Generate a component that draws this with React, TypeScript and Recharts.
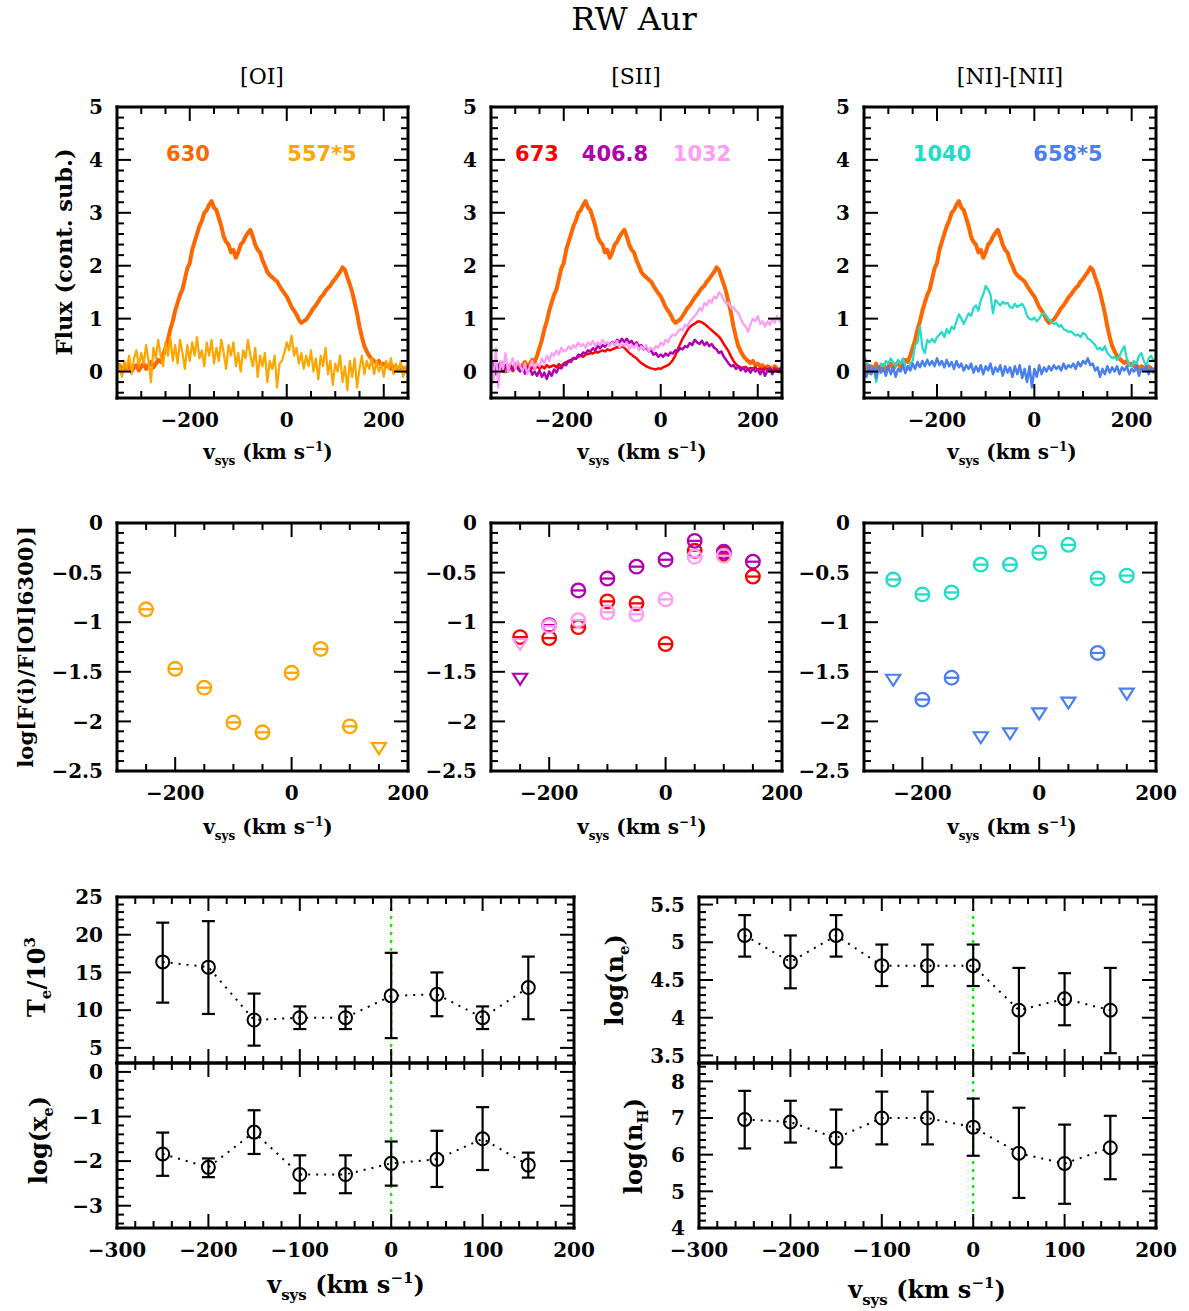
import React from 'react';
import { ComposedChart, Line, Scatter, XAxis, YAxis, ErrorBar, ReferenceLine } from 'recharts';

// ---------- spectra (velocity grid, km/s) ----------
const specVel = Array.from({ length: 121 }, (_, i) => -350 + 5 * i);

const flux630 = [
  0.05, 0.12, -0.02, 0.1, 0.05, 0.15, 0.0, 0.08, 0.12, 0.02, 0.1, 0.15, 0.05, 0.12, 0.18, 0.08, 0.15, 0.22, 0.18, 0.3,
  0.45, 0.6, 0.8, 0.95, 1.15, 1.3, 1.45, 1.55, 1.75, 1.95, 2.05, 2.3, 2.45, 2.6, 2.75, 2.85, 3.0, 3.05, 3.15, 3.22,
  3.1, 3.05, 2.9, 2.75, 2.55, 2.45, 2.4, 2.25, 2.3, 2.15, 2.25, 2.4, 2.45, 2.55, 2.62, 2.68, 2.55, 2.4, 2.3, 2.25,
  2.1, 2.0, 1.88, 1.82, 1.78, 1.74, 1.7, 1.62, 1.55, 1.48, 1.42, 1.32, 1.22, 1.15, 1.08, 0.98, 0.92, 0.95, 0.98, 1.05,
  1.12, 1.2, 1.25, 1.32, 1.4, 1.45, 1.52, 1.58, 1.62, 1.7, 1.75, 1.82, 1.88, 1.97, 1.92, 1.78, 1.65, 1.5, 1.3, 1.1,
  0.85, 0.65, 0.48, 0.38, 0.3, 0.24, 0.2, 0.16, 0.2, 0.12, 0.15, 0.1, 0.12, 0.05, 0.1, 0.08, 0.02, 0.1, 0.05, 0.0,
  0.08,
];
const flux557x5 = [
  0.0, 0.12, -0.1, 0.2, 0.05, 0.3, -0.05, 0.25, 0.4, 0.1, 0.35, 0.15, 0.5, 0.2, -0.2, 0.45, 0.25, 0.6, 0.3, 0.1,
  0.55, 0.3, 0.65, 0.2, 0.5, 0.15, 0.6, 0.35, 0.05, 0.5, 0.2, 0.55, 0.3, 0.65, 0.25, 0.4, 0.1, 0.55, 0.3, 0.6,
  0.15, 0.45, 0.2, 0.6, 0.35, 0.05, 0.5, 0.3, 0.55, 0.1, 0.35, 0.0, 0.4, 0.25, 0.6, 0.3, 0.1, 0.45, -0.1, 0.3,
  0.1, 0.35, -0.2, 0.2, 0.05, 0.3, -0.3, 0.15, 0.2, 0.35, 0.55, 0.4, 0.68, 0.3, 0.45, 0.15, 0.35, 0.05, 0.3, 0.1,
  0.4, 0.0, 0.25, -0.15, 0.3, 0.1, 0.45, -0.05, 0.2, -0.25, 0.15, 0.0, 0.3, -0.2, 0.1, -0.35, 0.2, -0.1, 0.25, -0.3,
  0.05, 0.3, -0.05, 0.2, 0.05, 0.25, -0.05, 0.2, 0.0, 0.15, -0.1, 0.2, 0.05, 0.25, -0.05, 0.15, 0.0, 0.2, -0.1, 0.1,
  0.05,
];
const flux673 = [
  0.12, 0.02, 0.15, 0.05, 0.12, 0.0, 0.1, 0.05, 0.12, 0.02, 0.08, 0.1, 0.02, 0.08, 0.05, 0.1, 0.02, 0.08, 0.05, 0.1,
  0.05, 0.1, 0.06, 0.12, 0.08, 0.1, 0.12, 0.08, 0.14, 0.1, 0.15, 0.18, 0.2, 0.22, 0.25, 0.24, 0.28, 0.3, 0.28, 0.32,
  0.33, 0.35, 0.34, 0.37, 0.36, 0.38, 0.4, 0.38, 0.42, 0.4, 0.42, 0.44, 0.46, 0.45, 0.48, 0.45, 0.4, 0.35, 0.32, 0.28,
  0.25, 0.2, 0.16, 0.13, 0.1, 0.08, 0.06, 0.05, 0.04, 0.06, 0.05, 0.08, 0.1, 0.12, 0.16, 0.22, 0.3, 0.42, 0.52, 0.62,
  0.7, 0.78, 0.84, 0.88, 0.9, 0.94, 0.95, 0.93, 0.9, 0.86, 0.82, 0.78, 0.74, 0.7, 0.66, 0.6, 0.52, 0.45, 0.38, 0.28,
  0.2, 0.14, 0.1, 0.08, 0.06, 0.09, 0.04, 0.07, 0.05, 0.08, 0.03, 0.06, 0.02, 0.07, 0.04, 0.05, 0.01, 0.06, 0.03, 0.05,
  0.04,
];
const flux4068 = [
  -0.12, 0.15, -0.05, 0.1, 0.18, 0.02, 0.12, 0.0, 0.1, 0.04, 0.14, 0.06, 0.0, 0.08, -0.04, 0.03, 0.08, -0.06, 0.0, -0.08,
  0.02, -0.1, -0.02, -0.14, 0.0, -0.08, 0.04, -0.02, 0.08, 0.06, 0.14, 0.12, 0.2, 0.18, 0.26, 0.24, 0.32, 0.3, 0.36, 0.34,
  0.4, 0.38, 0.44, 0.4, 0.48, 0.44, 0.5, 0.47, 0.54, 0.5, 0.56, 0.52, 0.6, 0.55, 0.62, 0.56, 0.62, 0.54, 0.58, 0.5,
  0.55, 0.48, 0.5, 0.42, 0.45, 0.38, 0.4, 0.32, 0.35, 0.28, 0.32, 0.28, 0.34, 0.3, 0.36, 0.34, 0.4, 0.38, 0.44, 0.42,
  0.48, 0.46, 0.54, 0.5, 0.6, 0.55, 0.52, 0.58, 0.5, 0.55, 0.48, 0.52, 0.45, 0.42, 0.35, 0.38, 0.28, 0.22, 0.15, 0.1,
  0.12, 0.05, 0.1, 0.02, 0.08, 0.0, 0.05, -0.02, 0.06, 0.0, 0.04, -0.05, 0.05, -0.08, 0.02, 0.06, -0.05, 0.04, 0.0, 0.05,
  0.02,
];
const flux1032 = [
  0.3, -0.2, 0.45, -0.3, 0.2, 0.05, 0.35, 0.0, 0.15, 0.25, 0.05, 0.2, 0.1, 0.0, 0.15, -0.05, 0.1, 0.2, 0.05, 0.15,
  0.1, 0.25, 0.15, 0.3, 0.2, 0.35, 0.3, 0.4, 0.32, 0.45, 0.38, 0.4, 0.48, 0.42, 0.5, 0.45, 0.55, 0.48, 0.52, 0.45,
  0.55, 0.5, 0.58, 0.48, 0.55, 0.5, 0.6, 0.52, 0.56, 0.48, 0.55, 0.5, 0.58, 0.45, 0.52, 0.48, 0.55, 0.42, 0.5, 0.45,
  0.52, 0.4, 0.48, 0.42, 0.5, 0.38, 0.45, 0.4, 0.48, 0.45, 0.55, 0.5, 0.6, 0.55, 0.65, 0.7, 0.68, 0.75, 0.8, 0.78,
  0.88, 0.85, 0.95, 1.0, 1.05, 1.1, 1.2, 1.15, 1.3, 1.25, 1.35, 1.3, 1.42, 1.38, 1.5, 1.45, 1.35, 1.28, 1.3, 1.2,
  1.22, 1.15, 1.1, 1.0, 0.9, 0.85, 0.75, 0.9, 1.0, 0.95, 1.05, 0.9, 0.95, 0.85, 0.95, 0.88, 1.0, 0.92, 1.05, 0.95,
  1.05,
];
const flux1040 = [
  0.3, 0.2, 0.1, -0.05, 0.1, -0.2, 0.05, 0.15, 0.1, 0.2, 0.15, 0.25, 0.18, 0.1, 0.22, 0.15, 0.25, 0.1, 0.05, 0.15,
  0.2, 0.5, 0.55, 0.85, 0.45, 0.35, 0.6, 0.55, 0.62, 0.55, 0.65, 0.7, 0.75, 0.65, 0.8, 0.72, 0.85, 0.8, 0.95, 1.08,
  1.0, 0.9, 1.0, 1.1, 1.05, 1.2, 1.25, 1.15, 1.35, 1.45, 1.62, 1.55, 1.45, 1.1, 1.35, 1.3, 1.25, 1.32, 1.28, 1.3,
  1.22, 1.2, 1.28, 1.22, 1.25, 1.28, 1.2, 1.05, 1.0, 0.98, 1.02, 0.95, 1.0, 1.08, 1.1, 1.05, 0.98, 0.95, 0.9, 0.92,
  0.85, 0.88, 0.8, 0.78, 0.75, 0.76, 0.72, 0.68, 0.7, 0.65, 0.73, 0.7, 0.62, 0.6, 0.55, 0.5, 0.42, 0.45, 0.4, 0.48,
  0.35, 0.3, 0.25, 0.28, 0.22, 0.3, 0.4, 0.48, 0.25, 0.12, 0.1, 0.2, 0.15, 0.3, 0.35, 0.2, 0.1, 0.25, 0.3, 0.2,
  0.25,
];
const flux658x5 = [
  0.05, -0.1, 0.12, -0.05, 0.08, -0.12, 0.1, -0.02, 0.05, -0.08, 0.1, -0.05, 0.08, -0.1, 0.05, 0.0, 0.12, -0.03, 0.1, 0.02,
  0.15, 0.05, 0.18, 0.08, 0.2, 0.1, 0.22, 0.12, 0.2, 0.1, 0.25, 0.12, 0.2, 0.08, 0.22, 0.1, 0.18, 0.05, 0.2, 0.08,
  0.15, 0.02, 0.12, 0.05, 0.15, -0.02, 0.1, 0.0, 0.12, -0.05, 0.1, 0.02, 0.15, -0.05, 0.08, 0.0, 0.12, -0.08, 0.1, -0.02,
  0.08, -0.1, 0.1, -0.05, 0.12, -0.12, 0.05, -0.2, 0.1, -0.3, 0.05, -0.1, 0.12, -0.05, 0.08, 0.0, 0.1, 0.02, 0.12, 0.05,
  0.1, 0.02, 0.15, 0.05, 0.12, 0.08, 0.15, 0.05, 0.18, 0.1, 0.2, 0.15, 0.25, 0.12, 0.15, 0.02, 0.08, -0.1, 0.05, -0.05,
  0.1, -0.02, 0.08, 0.0, 0.1, -0.05, 0.08, 0.02, 0.1, -0.05, 0.05, 0.0, 0.1, -0.08, 0.05, 0.02, 0.1, -0.05, 0.08, 0.0,
  0.05,
];

// ---------- line ratios ----------
const ratioVel = [-250, -200, -150, -100, -50, 0, 50, 100, 150];
const r557 = [-0.87, -1.47, -1.66, -2.01, -2.11, -1.51, -1.27, -2.05, -2.27];
const r557Lim = [0, 0, 0, 0, 0, 0, 0, 0, 1];
const r673 = [-1.15, -1.16, -1.05, -0.79, -0.81, -1.22, -0.28, -0.31, -0.54];
const r673Lim = [0, 0, 0, 0, 0, 0, 0, 0, 0];
const r4068 = [-1.57, -1.03, -0.68, -0.56, -0.44, -0.37, -0.18, -0.29, -0.39];
const r4068Lim = [1, 0, 0, 0, 0, 0, 0, 0, 0];
const r1032 = [-1.22, -1.04, -0.98, -0.9, -0.92, -0.77, -0.34, -0.33, null];
const r1032Lim = [1, 0, 0, 0, 0, 0, 0, 0, 0];
const r1040 = [-0.57, -0.72, -0.7, -0.42, -0.42, -0.3, -0.22, -0.56, -0.53];
const r1040Lim = [0, 0, 0, 0, 0, 0, 0, 0, 0];
const r658 = [-1.58, -1.78, -1.56, -2.16, -2.12, -1.92, -1.81, -1.31, -1.72];
const r658Lim = [1, 0, 0, 1, 1, 1, 1, 0, 1];

// ---------- physical parameters ----------
const physVel = [-250, -200, -150, -100, -50, 0, 50, 100, 150];
const te = [16.4, 15.7, 8.7, 9.0, 9.0, 11.9, 12.1, 9.0, 13.0];
const teLo = [11.0, 9.5, 5.3, 7.5, 7.5, 6.3, 9.2, 7.5, 8.8];
const teHi = [21.6, 21.8, 12.2, 10.5, 10.5, 17.6, 15.0, 10.5, 17.1];
const xe = [-1.84, -2.14, -1.35, -2.3, -2.3, -2.05, -1.96, -1.5, -2.09];
const xeLo = [-2.33, -2.36, -1.84, -2.72, -2.72, -2.55, -2.58, -2.2, -2.37];
const xeHi = [-1.36, -1.94, -0.86, -1.87, -1.87, -1.56, -1.32, -0.79, -1.81];
const ne = [5.09, 4.74, 5.09, 4.69, 4.69, 4.69, 4.1, 4.25, 4.1];
const neLo = [4.81, 4.39, 4.81, 4.42, 4.42, 4.42, 3.53, 3.9, 3.53];
const neHi = [5.36, 5.09, 5.36, 4.97, 4.97, 4.97, 4.66, 4.59, 4.66];
const nh = [6.96, 6.89, 6.45, 7.0, 7.0, 6.75, 6.04, 5.76, 6.19];
const nhLo = [6.17, 6.33, 5.65, 6.28, 6.28, 5.97, 4.82, 4.66, 5.33];
const nhHi = [7.74, 7.47, 7.23, 7.72, 7.72, 7.53, 7.28, 6.82, 7.06];

// ---------- tick labels ----------
const specXMajor = [-200, 0, 200];
const specYMajor = [0, 1, 2, 3, 4, 5];
const ratioXMajor = [-200, 0, 200];
const ratioYMajor = [0, -0.5, -1, -1.5, -2, -2.5];
const physXMajor = [-300, -200, -100, 0, 100, 200];
const teMajor = [5, 10, 15, 20, 25];
const xeMajor = [0, -1, -2, -3];
const neMajor = [3.5, 4, 4.5, 5, 5.5];
const nhMajor = [4, 5, 6, 7, 8];

const COL = {
  o630: '#ff6600',
  o557: '#ffa500',
  s673: '#ff0000',
  s4068: '#b000b0',
  s1032: '#ff9cf6',
  n1040: '#20dcc8',
  n658: '#4a7ff0',
};

const SERIF = '"DejaVu Serif", "Liberation Serif", serif';
const SANS = '"DejaVu Sans", "Liberation Sans", sans-serif';

const specRows = specVel.map((x, i) => ({
  x,
  o630: flux630[i],
  o557: flux557x5[i],
  s673: flux673[i],
  s4068: flux4068[i],
  s1032: flux1032[i],
  n1040: flux1040[i],
  n658: flux658x5[i],
}));

function pts(vals: (number | null)[], lims: number[], wantLim: number) {
  const out: { x: number; y: number }[] = [];
  vals.forEach((v, i) => {
    if (v !== null && lims[i] === wantLim) out.push({ x: ratioVel[i], y: v });
  });
  return out;
}

function physRows(v: number[], lo: number[], hi: number[]) {
  return physVel.map((x, i) => ({ x, y: v[i], err: [v[i] - lo[i], hi[i] - v[i]] }));
}

function minorTicks(lo: number, hi: number, step: number, majors: number[]) {
  const out: number[] = [];
  const s = Math.ceil(lo / step - 1e-9);
  const e = Math.floor(hi / step + 1e-9);
  for (let k = s; k <= e; k++) {
    const v = Math.round(k * step * 1e6) / 1e6;
    if (Math.abs(v - lo) < 1e-6 || Math.abs(v - hi) < 1e-6) continue;
    if (majors.some((m) => Math.abs(m - v) < 1e-6)) continue;
    out.push(v);
  }
  return out;
}

const fmt = (v: number) => (v < 0 ? '\u2212' : '') + String(Math.abs(v));

function makeTick(side: string, majors: number[], labels: boolean) {
  return (props: any) => {
    const { x, y, payload } = props;
    const v = Number(payload.value);
    const major = majors.some((m) => Math.abs(m - v) < 1e-6);
    const len = major ? 14 : 7;
    const dx = side === 'left' ? len : side === 'right' ? -len : 0;
    const dy = side === 'bottom' ? -len : side === 'top' ? len : 0;
    return (
      <g>
        <line x1={x} y1={y} x2={x + dx} y2={y + dy} stroke="#000" strokeWidth={2} />
        {labels && major && side === 'left' ? (
          <text x={x - 14} y={y} dy="0.36em" textAnchor="end" fontFamily={SERIF} fontWeight={700} fontSize={20} fill="#000">
            {fmt(v)}
          </text>
        ) : null}
        {labels && major && side === 'bottom' ? (
          <text x={x} y={y + 29} textAnchor="middle" fontFamily={SERIF} fontWeight={700} fontSize={20} fill="#000">
            {fmt(v)}
          </text>
        ) : null}
      </g>
    );
  };
}

const AXIS_LINE: any = { stroke: '#000', strokeWidth: 3, strokeLinecap: 'square' };

type AxOpt = {
  xd: [number, number];
  yd: [number, number];
  xMaj: number[];
  xStep: number;
  yMaj: number[];
  yStep: number;
  xLab: boolean;
  yLab: boolean;
};

function axes(o: AxOpt) {
  const xt = [...o.xMaj.filter((v) => v >= o.xd[0] && v <= o.xd[1]), ...minorTicks(o.xd[0], o.xd[1], o.xStep, o.xMaj)];
  const yt = [...o.yMaj.filter((v) => v >= o.yd[0] && v <= o.yd[1]), ...minorTicks(o.yd[0], o.yd[1], o.yStep, o.yMaj)];
  const common: any = {
    type: 'number',
    allowDataOverflow: true,
    mirror: true,
    interval: 0,
    tickSize: 0,
    tickMargin: 0,
    tickLine: false,
    axisLine: AXIS_LINE,
  };
  return [
    <XAxis key="xb" xAxisId="b" orientation="bottom" dataKey="x" domain={o.xd} ticks={xt} tick={makeTick('bottom', o.xMaj, o.xLab)} {...common} />,
    <XAxis key="xt" xAxisId="t" orientation="top" dataKey="x" domain={o.xd} ticks={xt} tick={makeTick('top', o.xMaj, false)} {...common} />,
    <YAxis key="yl" yAxisId="l" orientation="left" domain={o.yd} ticks={yt} tick={makeTick('left', o.yMaj, o.yLab)} {...common} />,
    <YAxis key="yr" yAxisId="r" orientation="right" domain={o.yd} ticks={yt} tick={makeTick('right', o.yMaj, false)} {...common} />,
  ];
}

const M = { left: 75, right: 35, top: 12, bottom: 42 };

function Box(props: { x0: number; x1: number; y0: number; y1: number; data?: any[]; children: any }) {
  const { x0, x1, y0, y1, data, children } = props;
  return (
    <div style={{ position: 'absolute', left: x0 - M.left, top: y0 - M.top }}>
      <ComposedChart width={x1 - x0 + M.left + M.right} height={y1 - y0 + M.top + M.bottom} margin={M} data={data}>
        {children}
      </ComposedChart>
    </div>
  );
}

function specLine(key: string, color: string, w: number) {
  return (
    <Line
      key={key}
      xAxisId="b"
      yAxisId="l"
      dataKey={key}
      stroke={color}
      strokeWidth={w}
      dot={false}
      type="linear"
      strokeLinejoin="round"
      isAnimationActive={false}
    />
  );
}

const circleShape = (color: string) => (p: any) => (
  <g>
    <circle cx={p.cx} cy={p.cy} r={6.8} fill="none" stroke={color} strokeWidth={2.3} />
    <line x1={p.cx - 6.8} y1={p.cy} x2={p.cx + 6.8} y2={p.cy} stroke={color} strokeWidth={2.3} />
  </g>
);
const triShape = (color: string) => (p: any) => (
  <polygon
    points={`${p.cx - 7},${p.cy - 5} ${p.cx + 7},${p.cy - 5} ${p.cx},${p.cy + 6}`}
    fill="none"
    stroke={color}
    strokeWidth={2.2}
    strokeLinejoin="miter"
  />
);

function ratioSeries(key: string, vals: (number | null)[], lims: number[], color: string) {
  return [
    <Scatter key={key + 'c'} xAxisId="b" yAxisId="l" data={pts(vals, lims, 0)} dataKey="y" shape={circleShape(color)} isAnimationActive={false} />,
    <Scatter key={key + 't'} xAxisId="b" yAxisId="l" data={pts(vals, lims, 1)} dataKey="y" shape={triShape(color)} isAnimationActive={false} />,
  ];
}

const dotShape = (p: any) =>
  p.cx == null ? <g key={p.key} /> : <circle key={p.key} cx={p.cx} cy={p.cy} r={6.5} fill="none" stroke="#000" strokeWidth={2} />;

function physSeries() {
  return [
    <ReferenceLine key="zero" x={0} xAxisId="b" yAxisId="l" stroke="#00ee00" strokeWidth={2.2} strokeDasharray="3 5" />,
    <Line
      key="ln"
      xAxisId="b"
      yAxisId="l"
      dataKey="y"
      stroke="#000"
      strokeWidth={2}
      strokeDasharray="2 6"
      type="linear"
      dot={dotShape}
      isAnimationActive={false}
    >
      <ErrorBar dataKey="err" direction="y" width={6.5} stroke="#000" strokeWidth={2.2} />
    </Line>,
  ];
}

const TOP_Y: [number, number] = [107, 398];
const MID_Y: [number, number] = [523, 771];
const COLS: [number, number][] = [
  [117, 408],
  [491, 782],
  [864, 1156],
];
const specAx: AxOpt = { xd: [-350, 250], yd: [-0.5, 5], xMaj: specXMajor, xStep: 50, yMaj: specYMajor, yStep: 0.2, xLab: true, yLab: true };
const ratioAx: AxOpt = { xd: [-300, 200], yd: [-2.5, 0], xMaj: ratioXMajor, xStep: 50, yMaj: ratioYMajor, yStep: 0.1, xLab: true, yLab: true };

function VLabel(props: { x: number; y: number; size?: number }) {
  const s = props.size || 20;
  const sub = Math.round(s * 0.62);
  return (
    <text x={props.x} y={props.y} textAnchor="middle" fontFamily={SERIF} fontWeight={700} fontSize={s} fill="#000">
      <tspan>v</tspan>
      <tspan fontSize={sub} dy={s * 0.3}>sys</tspan>
      <tspan dy={-s * 0.3}> (km s</tspan>
      <tspan fontSize={sub} dy={-s * 0.4}>{'\u22121'}</tspan>
      <tspan dy={s * 0.4}>)</tspan>
    </text>
  );
}

function RotLabel(props: { x: number; y: number; size?: number; children: any }) {
  return (
    <text
      x={props.x}
      y={props.y}
      dy="0.36em"
      textAnchor="middle"
      transform={`rotate(-90 ${props.x} ${props.y})`}
      fontFamily={SERIF}
      fontWeight={700}
      fontSize={props.size || 20}
      fill="#000"
    >
      {props.children}
    </text>
  );
}

function SubLabel(props: { x: number; y: number; pre: string; sub: string; post: string; sup?: string }) {
  return (
    <RotLabel x={props.x} y={props.y} size={24}>
      <tspan>{props.pre}</tspan>
      <tspan fontSize={15} dy={6}>{props.sub}</tspan>
      <tspan dy={-6}>{props.post}</tspan>
      {props.sup ? (
        <tspan fontSize={15} dy={-10}>
          {props.sup}
        </tspan>
      ) : null}
    </RotLabel>
  );
}

export default function App() {
  return (
    <div style={{ position: 'absolute', left: 0, top: 0, width: 1189, height: 1311, background: '#fff', overflow: 'hidden' }}>
      {/* top row: spectra */}
      <Box x0={COLS[0][0]} x1={COLS[0][1]} y0={TOP_Y[0]} y1={TOP_Y[1]} data={specRows}>
        {axes(specAx)}
        {specLine('o630', COL.o630, 4)}
        {specLine('o557', COL.o557, 2.2)}
      </Box>
      <Box x0={COLS[1][0]} x1={COLS[1][1]} y0={TOP_Y[0]} y1={TOP_Y[1]} data={specRows}>
        {axes(specAx)}
        {specLine('o630', COL.o630, 4)}
        {specLine('s673', COL.s673, 2.5)}
        {specLine('s4068', COL.s4068, 2.5)}
        {specLine('s1032', COL.s1032, 2.2)}
      </Box>
      <Box x0={COLS[2][0]} x1={COLS[2][1]} y0={TOP_Y[0]} y1={TOP_Y[1]} data={specRows}>
        {axes(specAx)}
        {specLine('o630', COL.o630, 4)}
        {specLine('n1040', COL.n1040, 2.2)}
        {specLine('n658', COL.n658, 2.5)}
      </Box>

      {/* middle row: ratios */}
      <Box x0={COLS[0][0]} x1={COLS[0][1]} y0={MID_Y[0]} y1={MID_Y[1]}>
        {axes(ratioAx)}
        {ratioSeries('r557', r557, r557Lim, COL.o557)}
      </Box>
      <Box x0={COLS[1][0]} x1={COLS[1][1]} y0={MID_Y[0]} y1={MID_Y[1]}>
        {axes(ratioAx)}
        {ratioSeries('r673', r673, r673Lim, COL.s673)}
        {ratioSeries('r4068', r4068, r4068Lim, COL.s4068)}
        {ratioSeries('r1032', r1032, r1032Lim, COL.s1032)}
      </Box>
      <Box x0={COLS[2][0]} x1={COLS[2][1]} y0={MID_Y[0]} y1={MID_Y[1]}>
        {axes(ratioAx)}
        {ratioSeries('r1040', r1040, r1040Lim, COL.n1040)}
        {ratioSeries('r658', r658, r658Lim, COL.n658)}
      </Box>

      {/* bottom: physical parameters */}
      <Box x0={117} x1={574} y0={897} y1={1063} data={physRows(te, teLo, teHi)}>
        {axes({ xd: [-300, 200], yd: [3, 25], xMaj: physXMajor, xStep: 20, yMaj: teMajor, yStep: 1, xLab: false, yLab: true })}
        {physSeries()}
      </Box>
      <Box x0={117} x1={574} y0={1063} y1={1228} data={physRows(xe, xeLo, xeHi)}>
        {axes({ xd: [-300, 200], yd: [-3.5, 0.2], xMaj: physXMajor, xStep: 20, yMaj: xeMajor, yStep: 0.2, xLab: true, yLab: true })}
        {physSeries()}
      </Box>
      <Box x0={699} x1={1156} y0={897} y1={1063} data={physRows(ne, neLo, neHi)}>
        {axes({ xd: [-300, 200], yd: [3.4, 5.6], xMaj: physXMajor, xStep: 20, yMaj: neMajor, yStep: 0.1, xLab: false, yLab: true })}
        {physSeries()}
      </Box>
      <Box x0={699} x1={1156} y0={1063} y1={1228} data={physRows(nh, nhLo, nhHi)}>
        {axes({ xd: [-300, 200], yd: [4, 8.5], xMaj: physXMajor, xStep: 20, yMaj: nhMajor, yStep: 0.2, xLab: true, yLab: true })}
        {physSeries()}
      </Box>

      {/* text overlay */}
      <svg width={1189} height={1311} style={{ position: 'absolute', left: 0, top: 0, pointerEvents: 'none' }}>
        <text x={634} y={30} textAnchor="middle" fontFamily={SERIF} fontSize={32} fill="#000">RW Aur</text>
        <text x={262} y={84} textAnchor="middle" fontFamily={SERIF} fontSize={22} fill="#000">[OI]</text>
        <text x={636} y={84} textAnchor="middle" fontFamily={SERIF} fontSize={22} fill="#000">[SII]</text>
        <text x={1010} y={84} textAnchor="middle" fontFamily={SERIF} fontSize={22} fill="#000">[NI]-[NII]</text>

        <g fontFamily={SANS} fontWeight={700} fontSize={21} textAnchor="middle">
          <text x={188} y={161} fill={COL.o630}>630</text>
          <text x={322} y={161} fill={COL.o557}>557*5</text>
          <text x={537} y={161} fill={COL.s673}>673</text>
          <text x={615} y={161} fill={COL.s4068}>406.8</text>
          <text x={702} y={161} fill={COL.s1032}>1032</text>
          <text x={942} y={161} fill={COL.n1040}>1040</text>
          <text x={1068} y={161} fill={COL.n658}>658*5</text>
        </g>

        <RotLabel x={64} y={252} size={22.5}>Flux (cont. sub.)</RotLabel>
        <RotLabel x={25} y={647} size={21.3}>log[F(i)/F[OI]6300)]</RotLabel>
        <SubLabel x={36} y={977} pre="T" sub="e" post="/10" sup="3" />
        <SubLabel x={38} y={1140} pre="log(x" sub="e" post=")" />
        <SubLabel x={614} y={980} pre="log(n" sub="e" post=")" />
        <SubLabel x={633} y={1146} pre="log(n" sub="H" post=")" />

        <VLabel x={268} y={459} />
        <VLabel x={642} y={459} />
        <VLabel x={1012} y={459} />
        <VLabel x={268} y={834} />
        <VLabel x={642} y={834} />
        <VLabel x={1012} y={834} />
        <VLabel x={346} y={1293} size={24} />
        <VLabel x={927} y={1298} size={24} />
      </svg>
    </div>
  );
}
